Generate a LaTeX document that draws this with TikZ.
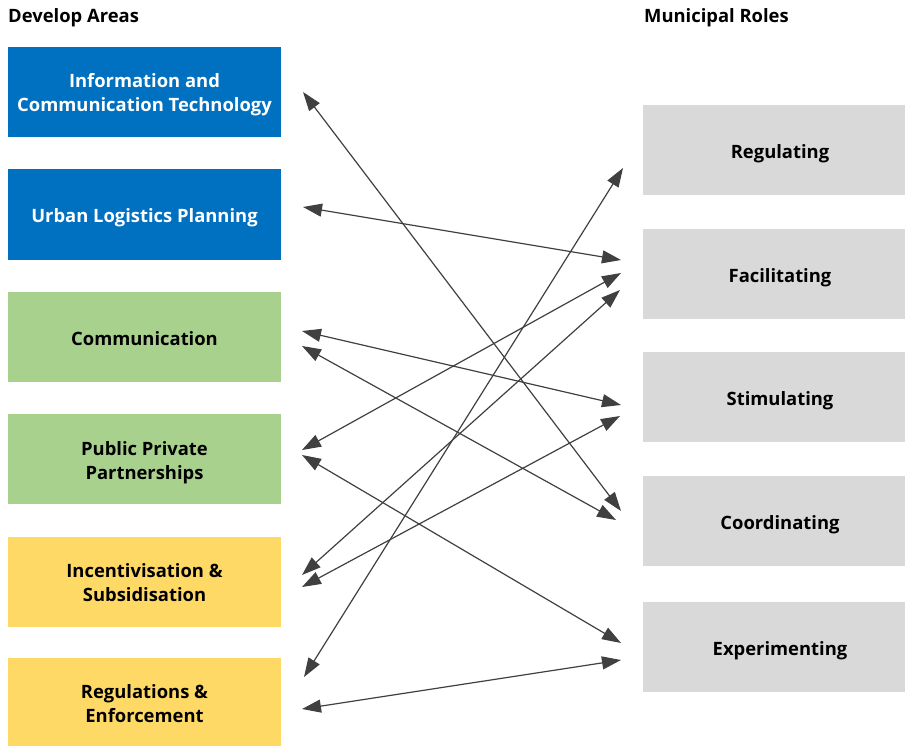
\documentclass[tikz,border=0pt]{standalone}
\usepackage{fontspec}
\setmainfont{Open Sans}
\usetikzlibrary{arrows.meta,positioning}
\definecolor{areablue}{HTML}{0070C0}
\definecolor{areagreen}{HTML}{A9D18E}
\definecolor{areayellow}{HTML}{FFD966}
\definecolor{rolegray}{HTML}{D9D9D9}
\definecolor{linkgray}{HTML}{404040}

\begin{document}
\begin{tikzpicture}[x=1pt, y=-1pt,
  area/.style={minimum width=273pt, minimum height=90pt, inner sep=0pt, align=center},
  role/.style={fill=rolegray, minimum width=274pt, minimum height=90pt, inner sep=0pt},
  oneline/.style={text height=17pt, text depth=0pt},
  twoline/.style={text height=40pt, text depth=0pt},
  every node/.style={font=\bfseries\fontsize{18.4}{24}\selectfont},
  link/.style={every edge/.style={draw=linkgray, line width=1.2pt,
      {Triangle[length=19pt,width=13pt]}-{Triangle[length=19pt,width=13pt]}}}]
  \useasboundingbox (0,0) rectangle (905,746);

  % Titles
  \node[anchor=base west, inner sep=0pt] (tleft) at (8,23) {Develop Areas};
  \node[anchor=base west, inner sep=0pt] (tright) at (644,23) {Municipal Roles};

  % Develop areas
  \node[area, twoline, fill=areablue, text=white] (a1) at (144.5,92) {Information and\\Communication Technology};
  \node[area, oneline, fill=areablue, text=white] (a2) at (144.5,214.5) {Urban Logistics Planning};
  \node[area, oneline, fill=areagreen] (a3) at (144.5,336.5) {Communication};
  \node[area, twoline, fill=areagreen] (a4) at (144.5,459) {Public Private\\Partnerships};
  \node[area, twoline, fill=areayellow] (a5) at (144.5,581.5) {Incentivisation \&\\Subsidisation};
  \node[area, twoline, fill=areayellow, minimum height=88pt] (a6) at (144.5,702) {Regulations \&\\Enforcement};

  % Municipal roles
  \node[role, oneline] (r1) at (780,150) {Regulating};
  \node[role, oneline] (r2) at (780,274) {Facilitating};
  \node[role, oneline] (r3) at (780,397) {Stimulating};
  \node[role, oneline] (r4) at (780,521) {Coordinating};
  \node[role, oneline] (r5) at (780,647) {Experimenting};

  % Arrow ends
  \coordinate (a1x) at (303,92);
  \coordinate (a2x) at (303,207);
  \coordinate (a3x) at (302,331);
  \coordinate (a3y) at (302,346);
  \coordinate (a4x) at (302,450);
  \coordinate (a4y) at (302,455);
  \coordinate (a5x) at (302,575);
  \coordinate (a5y) at (302,587);
  \coordinate (a6x) at (304,677);
  \coordinate (a6y) at (302,709);
  \coordinate (r1x) at (623,168);
  \coordinate (r2x) at (621,260);
  \coordinate (r2y) at (621,273);
  \coordinate (r2z) at (620,290);
  \coordinate (r3x) at (621,405);
  \coordinate (r3y) at (620,416);
  \coordinate (r4x) at (621,511);
  \coordinate (r4y) at (616,520);
  \coordinate (r5x) at (621,643);
  \coordinate (r5y) at (621,660);

  % Links
  \path[link]
    (a1x) edge (r4x)
    (a2x) edge (r2x)
    (a3x) edge (r3x)
    (a3y) edge (r4y)
    (a4x) edge (r2y)
    (a4y) edge (r5x)
    (a5x) edge (r2z)
    (a5y) edge (r3y)
    (a6x) edge (r1x)
    (a6y) edge (r5y);
\end{tikzpicture}
\end{document}
